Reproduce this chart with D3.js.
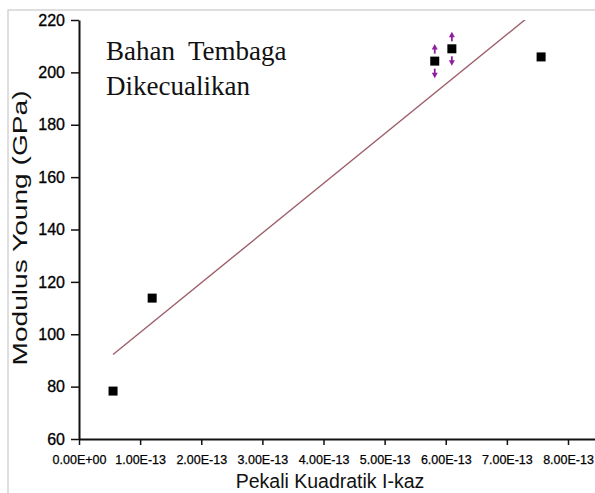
<!DOCTYPE html>
<html>
<head>
<meta charset="utf-8">
<script src="https://cdn.jsdelivr.net/npm/d3@7"></script>
<style>
  html, body { margin: 0; padding: 0; background: #fff; }
  svg { display: block; }
  .sans { font-family: "Liberation Sans", Arial, Helvetica, sans-serif; }
  .serif { font-family: "Liberation Serif", "Times New Roman", "DejaVu Serif", serif; }
</style>
</head>
<body>
<svg id="chart" width="595" height="493"></svg>
<script>
// Measured samples: quadratic coefficient vs Young's modulus
const coefK = [0.557e-13, 1.197e-13, 5.82e-13, 6.10e-13, 7.56e-13];
const modulusGPa = [78.3, 113.8, 204.3, 209.0, 205.9];
// Points carrying double-headed shift arrows (GPa extent)
const shiftGPa = [null, null, 6.5, 6.5, null];

const xTicks = [0, 1e-13, 2e-13, 3e-13, 4e-13, 5e-13, 6e-13, 7e-13, 8e-13];
const xMinorTicks = [0.5e-13, 1.5e-13, 2.5e-13, 3.5e-13, 4.5e-13, 5.5e-13, 6.5e-13, 7.5e-13, 8.5e-13];
const yTicks = [60, 80, 100, 120, 140, 160, 180, 200, 220];
const yMinorTicks = [70, 90, 110, 130, 150, 170, 190, 210];

const noteLines = ["Bahan  Tembaga", "Dikecualikan"];
const xTitle = "Pekali Kuadratik I-kaz";
const yTitle = "Modulus Young (GPa)";

const svg = d3.select("#chart");

const x = d3.scaleLinear().domain([0, 8.6e-13]).range([79, 79 + 8.6 * 61.125]);
const y = d3.scaleLinear().domain([60, 220]).range([439, 20]);

// light outer frame
svg.append("rect")
  .attr("x", 8).attr("y", 10).attr("width", 620).attr("height", 520)
  .attr("fill", "none").attr("stroke", "#c9c9c9").attr("stroke-width", 1.2);

function sci(v) {
  if (v === 0) return "0.00E+00";
  const [m, e] = v.toExponential(2).split("e");
  return m + "E" + e[0] + e.slice(1).padStart(2, "0");
}

// regression line through the samples
const n = coefK.length;
const mx = d3.mean(coefK), my = d3.mean(modulusGPa);
let sxy = 0, sxx = 0;
for (let i = 0; i < n; i++) {
  sxy += (coefK[i] - mx) * (modulusGPa[i] - my);
  sxx += (coefK[i] - mx) ** 2;
}
const slope = sxy / sxx, icpt = my - slope * mx;
const xLo = d3.min(coefK), xHi = d3.max(coefK);

svg.append("clipPath").attr("id", "plotClip")
  .append("rect")
  .attr("x", x(0)).attr("y", y(220))
  .attr("width", 600).attr("height", y(60) - y(220));

svg.append("line")
  .attr("clip-path", "url(#plotClip)")
  .attr("x1", x(xLo)).attr("y1", y(icpt + slope * xLo))
  .attr("x2", x(xHi)).attr("y2", y(icpt + slope * xHi))
  .attr("stroke", "#9c5f6a").attr("stroke-width", 1.4);

// axes
const gx = svg.append("g").attr("transform", `translate(0,${y(60)})`);
gx.call(d3.axisBottom(x).tickValues(xMinorTicks).tickSize(3).tickSizeOuter(0).tickFormat(""));
gx.call(d3.axisBottom(x).tickValues(xTicks).tickSize(6).tickSizeOuter(0).tickPadding(10).tickFormat(sci));

const gy = svg.append("g").attr("transform", `translate(${x(0)},0)`);
gy.call(d3.axisLeft(y).tickValues(yMinorTicks).tickSize(4).tickSizeOuter(0).tickFormat(""));
gy.call(d3.axisLeft(y).tickValues(yTicks).tickSize(8).tickSizeOuter(0).tickPadding(6).tickFormat(d3.format("d")));

[gx, gy].forEach(g => {
  g.attr("font-family", null);
  g.selectAll(".domain").attr("stroke", "#111").attr("stroke-width", 2);
  g.selectAll(".tick line").attr("stroke", "#111").attr("stroke-width", 1.5);
});
gx.selectAll(".tick text")
  .attr("class", "sans").style("font-size", "12.5px").attr("fill", "#000")
  .attr("stroke", "#000").attr("stroke-width", 0.25);
gy.selectAll(".tick text")
  .attr("class", "sans").style("font-size", "16px").attr("fill", "#000")
  .attr("stroke", "#000").attr("stroke-width", 0.3);

// markers
svg.append("g").selectAll("rect")
  .data(coefK.map((k, i) => ({ k, v: modulusGPa[i] })))
  .join("rect")
  .attr("x", d => x(d.k) - 4.5).attr("y", d => y(d.v) - 4.5)
  .attr("width", 9).attr("height", 9)
  .attr("fill", "#000");

// shift arrows above and below selected markers
const arrowColor = "#8e1f9e";
const gA = svg.append("g");
coefK.forEach((k, i) => {
  const e = shiftGPa[i];
  if (e == null) return;
  const cx = x(k), cy = y(modulusGPa[i]);
  const reach = y(modulusGPa[i]) - y(modulusGPa[i] + e);
  [-1, 1].forEach(dir => {
    const y0 = cy + dir * 7.5;
    const y1 = cy + dir * reach;
    gA.append("line")
      .attr("x1", cx).attr("x2", cx).attr("y1", y0).attr("y2", y1 - dir * 3)
      .attr("stroke", arrowColor).attr("stroke-width", 1.8);
    gA.append("path")
      .attr("d", `M${cx - 3},${y1 - dir * 5.5}L${cx + 3},${y1 - dir * 5.5}L${cx},${y1}Z`)
      .attr("fill", arrowColor);
  });
});

// note
const note = svg.append("text")
  .attr("class", "serif")
  .style("font-size", "27px").attr("fill", "#111")
  .style("white-space", "pre");
noteLines.forEach((t, i) => {
  note.append("tspan").attr("x", 106).attr("y", 60 + i * 35).text(t);
});

// axis titles
svg.append("text")
  .attr("class", "sans")
  .attr("x", 330).attr("y", 488)
  .attr("text-anchor", "middle")
  .style("font-size", "19.5px").attr("fill", "#111")
  .text(xTitle);

svg.append("text")
  .attr("class", "sans")
  .attr("transform", `translate(27,228) rotate(-90)`)
  .attr("text-anchor", "middle")
  .style("font-size", "21px").attr("fill", "#111")
  .attr("textLength", 275).attr("lengthAdjust", "spacingAndGlyphs")
  .text(yTitle);
</script>
</body>
</html>
